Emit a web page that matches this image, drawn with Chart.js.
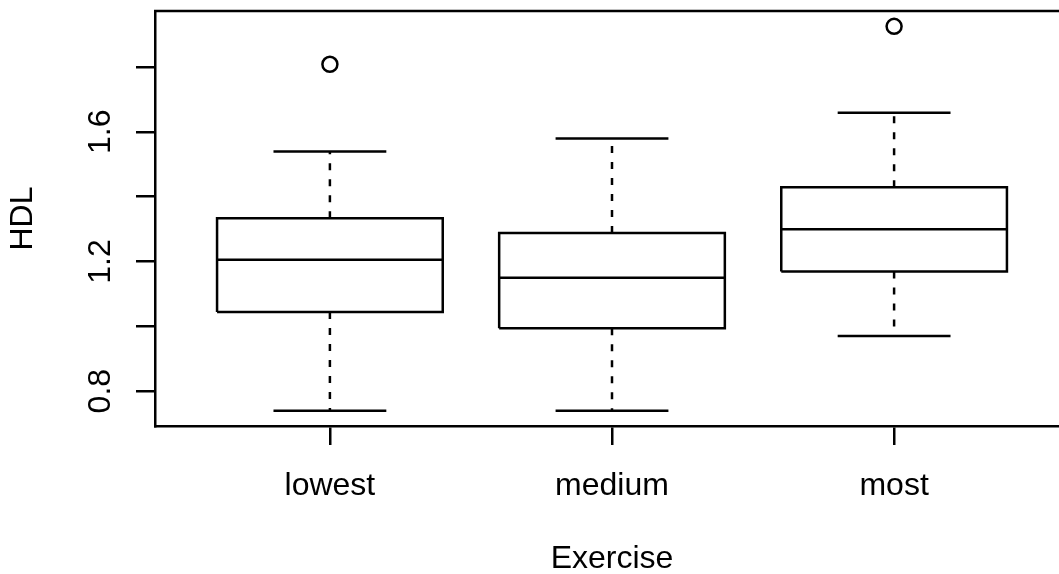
<!DOCTYPE html>
<html>
<head>
<meta charset="utf-8">
<script src="https://cdn.jsdelivr.net/npm/chart.js@4/dist/chart.umd.min.js"></script>
<style>
  html, body { margin: 0; padding: 0; background: #fff; overflow: hidden; }
  #wrap { width: 1100px; height: 574px; }
</style>
</head>
<body>
<div id="wrap"><canvas id="chart" width="1100" height="574"></canvas></div>
<script>
// Boxplot stats
const groups     = ['lowest', 'medium', 'most']
const lowerWhisk = [0.740, 0.740, 0.970]
const q1         = [1.044, 0.994, 1.169]
const median     = [1.205, 1.150, 1.299]
const q3         = [1.333, 1.288, 1.429]
const upperWhisk = [1.539, 1.579, 1.659]
const outliers   = [[1.808], [], [1.925]]

const yTicks  = [0.8, 1.0, 1.2, 1.4, 1.6, 1.8]
const yLabels = [0.8, 1.2, 1.6]

const FONT = 'Liberation Sans, Arial, Helvetica, sans-serif'
const FS = 32
const LW = 2.5
const BOX_HALF = 0.4
const CAP_HALF = 0.2

// Build line paths from the stats (null = break in the line)
const gap = x => ({ x, y: null })
const boxPts = [], medPts = [], capPts = [], whiskPts = [], outPts = []
groups.forEach((g, i) => {
  const x = i + 1
  boxPts.push(
    { x: x - BOX_HALF, y: q1[i] }, { x: x + BOX_HALF, y: q1[i] },
    { x: x + BOX_HALF, y: q3[i] }, { x: x - BOX_HALF, y: q3[i] },
    { x: x - BOX_HALF, y: q1[i] }, gap(x))
  medPts.push({ x: x - BOX_HALF, y: median[i] }, { x: x + BOX_HALF, y: median[i] }, gap(x))
  capPts.push(
    { x: x - CAP_HALF, y: upperWhisk[i] }, { x: x + CAP_HALF, y: upperWhisk[i] }, gap(x),
    { x: x - CAP_HALF, y: lowerWhisk[i] }, { x: x + CAP_HALF, y: lowerWhisk[i] }, gap(x))
  whiskPts.push(
    { x, y: q3[i] }, { x, y: upperWhisk[i] }, gap(x),
    { x, y: q1[i] }, { x, y: lowerWhisk[i] }, gap(x))
  outliers[i].forEach(v => outPts.push({ x, y: v }))
})

// R-style range: data range + 4% each side
const allVals = [...lowerWhisk, ...upperWhisk, ...outliers.flat()]
const yMin = Math.min(...allVals), yMax = Math.max(...allVals)
const yPad = (yMax - yMin) * 0.04
const xPad = (groups.length) * 0.04

const lineDs = (data, extra) => ({
  data, showLine: true, spanGaps: false, pointRadius: 0, pointHoverRadius: 0,
  borderColor: '#000', borderWidth: LW, fill: false, ...extra,
})

// top frame line + rotated y tick labels
const framePlugin = {
  id: 'frame',
  afterDraw(chart) {
    const { ctx, chartArea: a, scales: { y } } = chart
    ctx.save()
    ctx.strokeStyle = '#000'
    ctx.lineWidth = LW
    ctx.beginPath()
    ctx.moveTo(a.left - 1, a.top)
    ctx.lineTo(a.right, a.top)
    ctx.lineTo(a.right, a.bottom)
    ctx.stroke()

    ctx.fillStyle = '#000'
    ctx.font = `${FS}px ${FONT}`
    ctx.textAlign = 'center'
    ctx.textBaseline = 'alphabetic'
    for (const v of yLabels) {
      const py = y.getPixelForValue(v)
      ctx.save()
      ctx.translate(110, py)
      ctx.rotate(-Math.PI / 2)
      ctx.fillText(v.toFixed(1), 0, 0)
      ctx.restore()
    }
    ctx.restore()
  },
}

new Chart(document.getElementById('chart'), {
  type: 'scatter',
  data: {
    datasets: [
      lineDs(whiskPts, { borderDash: [7, 9] }),
      lineDs(boxPts),
      lineDs(capPts),
      lineDs(medPts),
      {
        data: outPts, pointStyle: 'circle', pointRadius: 7.5, pointBorderWidth: LW,
        pointBorderColor: '#000', pointBackgroundColor: 'rgba(0,0,0,0)', showLine: false,
      },
    ],
  },
  options: {
    responsive: false,
    animation: false,
    devicePixelRatio: 1,
    layout: { padding: { top: 11, right: 31, bottom: 0, left: 0 } },
    plugins: { legend: { display: false }, tooltip: { enabled: false } },
    scales: {
      x: {
        type: 'linear',
        min: 1 - 0.5 - xPad,
        max: groups.length + 0.5 + xPad,
        afterBuildTicks: s => { s.ticks = groups.map((g, i) => ({ value: i + 1 })) },
        afterFit: s => { s.height = 148 },
        grid: { drawOnChartArea: false, drawTicks: true, tickLength: 19, color: '#000', lineWidth: LW },
        border: { display: true, color: '#000', width: LW },
        ticks: {
          color: '#000', padding: 22, maxRotation: 0, autoSkip: false,
          font: { family: FONT, size: FS },
          callback: v => groups[Math.round(v) - 1] || '',
        },
        title: {
          display: true, text: 'Exercise', color: '#000',
          font: { family: FONT, size: FS, lineHeight: 0.9 }, padding: { top: 0, bottom: 0 },
        },
      },
      y: {
        type: 'linear',
        min: yMin - yPad,
        max: yMax + yPad,
        afterBuildTicks: s => { s.ticks = yTicks.map(v => ({ value: v })) },
        afterFit: s => { s.width = 155 },
        grid: { drawOnChartArea: false, drawTicks: true, tickLength: 19, color: '#000', lineWidth: LW },
        border: { display: true, color: '#000', width: LW },
        ticks: { display: false },
        title: {
          display: true, text: 'HDL', color: '#000',
          font: { family: FONT, size: FS, lineHeight: 0.9 }, padding: { top: 9, bottom: 0 },
        },
      },
    },
  },
  plugins: [framePlugin],
})
</script>
</body>
</html>
